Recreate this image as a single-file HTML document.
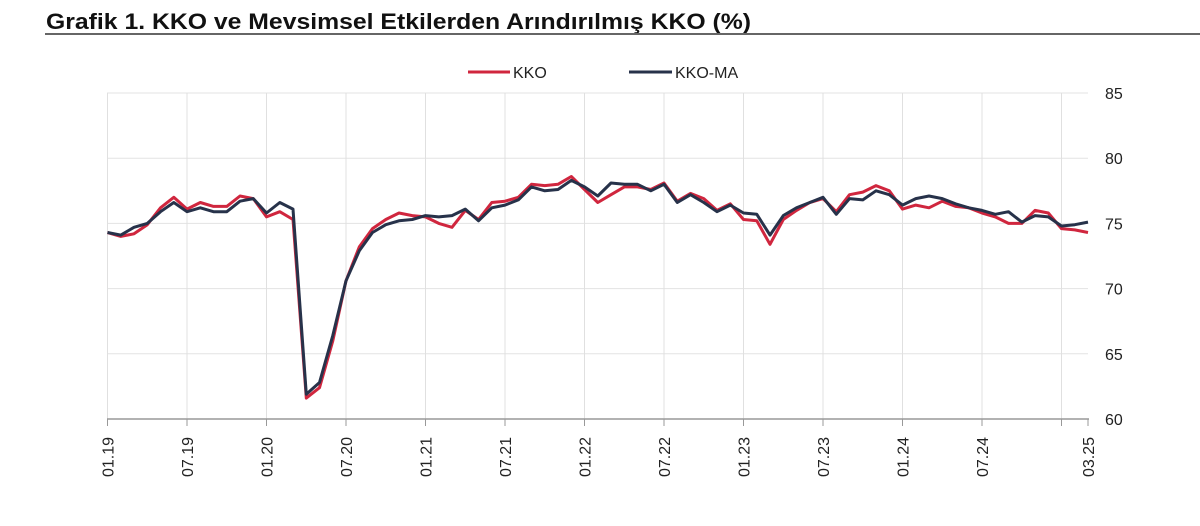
<!DOCTYPE html>
<html><head><meta charset="utf-8"><style>
body{margin:0;background:#fff;width:1200px;height:521px;overflow:hidden;font-family:"Liberation Sans",sans-serif}
</style></head><body>
<svg id="s" width="1200" height="521" xmlns="http://www.w3.org/2000/svg">
<text x="46" y="29" font-family="Liberation Sans, sans-serif" font-weight="bold" font-size="22" fill="#111" textLength="705" lengthAdjust="spacingAndGlyphs">Grafik 1. KKO ve Mevsimsel Etkilerden Arındırılmış KKO (%)</text>
<rect x="45" y="33" width="1155" height="2" fill="#666"/>
<g id="grid"></g>
<line x1="468" y1="72" x2="510" y2="72" stroke="#d0263e" stroke-width="3"/>
<text x="513" y="78" font-size="16" fill="#222">KKO</text>
<line x1="629" y1="72" x2="672" y2="72" stroke="#27324a" stroke-width="3"/>
<text x="675" y="78" font-size="16" fill="#222">KKO-MA</text>
<g id="lines"></g>
</svg>
<script>
var K=[74.3,74.0,74.2,74.9,76.2,77.0,76.1,76.6,76.3,76.3,77.1,76.9,75.5,75.9,75.3,61.6,62.4,66,70.6,73.2,74.6,75.3,75.8,75.6,75.5,75.0,74.7,76.0,75.3,76.6,76.7,77.0,78.0,77.9,78.0,78.6,77.6,76.6,77.2,77.8,77.8,77.6,78.1,76.7,77.3,76.9,76.0,76.5,75.3,75.2,73.4,75.3,76.0,76.6,76.9,75.9,77.2,77.4,77.9,77.5,76.1,76.4,76.2,76.7,76.3,76.2,75.8,75.5,75.0,75.0,76.0,75.8,74.6,74.5,74.3];
var M=[74.3,74.1,74.7,75.0,75.9,76.6,75.9,76.2,75.9,75.9,76.7,76.9,75.8,76.6,76.1,61.9,62.8,66.4,70.6,72.9,74.3,74.9,75.2,75.3,75.6,75.5,75.6,76.1,75.2,76.2,76.4,76.8,77.8,77.5,77.6,78.3,77.8,77.1,78.1,78.0,78.0,77.5,78.0,76.6,77.2,76.6,75.9,76.4,75.8,75.7,74.1,75.6,76.2,76.6,77.0,75.7,76.9,76.8,77.5,77.2,76.4,76.9,77.1,76.9,76.5,76.2,76.0,75.7,75.9,75.1,75.6,75.5,74.8,74.9,75.1];
function X(i){return 107.5+13.25*i}function Y(v){return 419-(v-60)*13.04}
var g='';
for(var v=60;v<=85;v+=5){var y=Y(v);if(v>60)g+='<line x1="107" x2="1088" y1="'+y+'" y2="'+y+'" stroke="#e3e3e3" stroke-width="1"/>';g+='<text x="1105" y="'+(y+6)+'" font-size="16" fill="#222">'+v+'</text>';}
var labs=['01.19','07.19','01.20','07.20','01.21','07.21','01.22','07.22','01.23','07.23','01.24','07.24',''];
for(var k=0;k<13;k++){var x=X(k*6);g+='<line x1="'+x+'" x2="'+x+'" y1="93" y2="419" stroke="#e0e0e0"/><line x1="'+x+'" x2="'+x+'" y1="419" y2="426" stroke="#999"/>';if(labs[k])g+='<text transform="translate('+(x+6)+',477) rotate(-90)" font-size="16" fill="#222">'+labs[k]+'</text>';}
var xe=X(74);g+='<line x1="'+xe+'" x2="'+xe+'" y1="419" y2="426" stroke="#999"/><text transform="translate('+(xe+6)+',477) rotate(-90)" font-size="16" fill="#222">03.25</text>';
g+='<line x1="107" x2="1089" y1="419" y2="419" stroke="#999" stroke-width="1.5"/>';
document.getElementById('grid').innerHTML=g;
function P(a){return a.map(function(v,i){return X(i).toFixed(1)+','+Y(v).toFixed(1)}).join(' ')}
document.getElementById('lines').innerHTML='<polyline points="'+P(K)+'" fill="none" stroke="#d0263e" stroke-width="3" stroke-linejoin="round"/><polyline points="'+P(M)+'" fill="none" stroke="#27324a" stroke-width="3" stroke-linejoin="round"/>';
</script>
</body></html>
